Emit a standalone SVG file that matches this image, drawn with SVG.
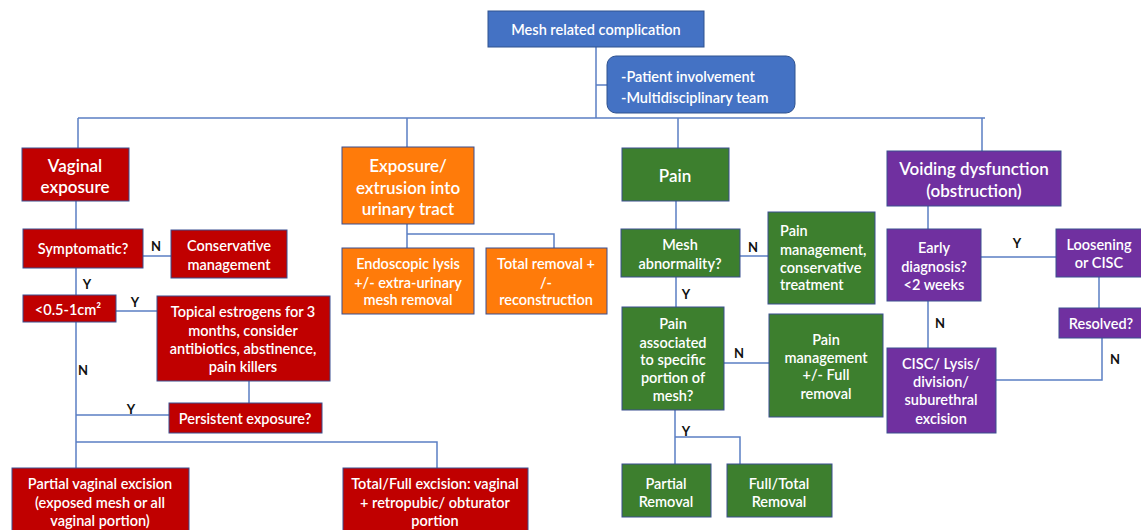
<svg xmlns="http://www.w3.org/2000/svg" width="1141" height="530" viewBox="0 0 1141 530">
<style>
.c{fill:none;stroke:#5B7FC4;stroke-width:1.5}
.bl{fill:#4472C4;stroke:#2F528F;stroke-width:1}
.rd{fill:#C00000;stroke:#3A4F8F;stroke-width:1}
.or{fill:#FF7B0A;stroke:#3A4F8F;stroke-width:1}
.gr{fill:#3D7F2E;stroke:#3A4F8F;stroke-width:1}
.pu{fill:#7030A0;stroke:#3A4F8F;stroke-width:1}
text{font-family:Lato,"Liberation Sans",Arial,sans-serif;font-weight:600;fill:#fff;font-size:14.5px;text-anchor:middle;dominant-baseline:central}
.h{font-size:17px}
.l{fill:#111;font-size:13px;font-weight:bold}
.s{text-anchor:start}
</style>
<rect width="1141" height="530" fill="#fff"/>
<g id="connectors">
<path class="c" d="M596 46V118M596 85H607M78 118H985M78 118V148M407 118V147M678 118V148M982 118V151"/>
<path class="c" d="M76 201V229M143 256H171M76 268V295M116 311H157M76 322V468M249 381V403M76 415H169M76 442H437V468"/>
<path class="c" d="M407 224V248M407 234H554V248"/>
<path class="c" d="M676 201V229M740 256H768M676 277V307M724 363H769M675 410V464M675 437H740V464"/>
<path class="c" d="M928 206V229M981 257H1056M1099 277V308M1102 338V380H996M928 301V348"/>
</g>
<g id="n-root"><rect class="bl" x="488" y="11" width="216" height="36"/><text x="596" y="29" font-size="15.5">Mesh related complication</text></g>
<g id="n-team"><rect class="bl" x="607" y="56" width="188" height="57" rx="9"/><text class="s" x="621" y="76">-Patient involvement</text><text class="s" x="621" y="97">-Multidisciplinary team</text></g>
<g id="n-vag"><rect class="rd" x="22" y="148" width="107" height="53"/><text class="h" x="75" y="165">Vaginal</text><text class="h" x="75" y="186">exposure</text></g>
<g id="n-symp"><rect class="rd" x="23" y="229" width="120" height="39"/><text x="83" y="248">Symptomatic?</text></g>
<g id="n-cons"><rect class="rd" x="171" y="230" width="116" height="48"/><text x="229" y="245">Conservative</text><text x="229" y="264">management</text></g>
<g id="n-size"><rect class="rd" x="23" y="295" width="93" height="27"/><text x="68" y="309">&lt;0.5-1cm²</text></g>
<g id="n-top"><rect class="rd" x="157" y="296" width="173" height="85"/><text x="243" y="311">Topical estrogens for 3</text><text x="243" y="330">months, consider</text><text x="243" y="348">antibiotics, abstinence,</text><text x="243" y="366">pain killers</text></g>
<g id="n-pers"><rect class="rd" x="169" y="403" width="153" height="30"/><text x="245" y="418">Persistent exposure?</text></g>
<g id="n-part"><rect class="rd" x="12" y="468" width="177" height="66"/><text x="100" y="483">Partial vaginal excision</text><text x="100" y="502">(exposed mesh or all</text><text x="100" y="520">vaginal portion)</text></g>
<g id="n-total"><rect class="rd" x="343" y="468" width="185" height="66"/><text x="435" y="483">Total/Full excision: vaginal</text><text x="435" y="502">+ retropubic/ obturator</text><text x="435" y="520">portion</text></g>
<g id="n-exp"><rect class="or" x="342" y="147" width="132" height="77"/><text class="h" x="408" y="165">Exposure/</text><text class="h" x="408" y="187">extrusion into</text><text class="h" x="408" y="208">urinary tract</text></g>
<g id="n-endo"><rect class="or" x="342" y="248" width="132" height="66"/><text x="408" y="263">Endoscopic lysis</text><text x="408" y="282">+/- extra-urinary</text><text x="408" y="299">mesh removal</text></g>
<g id="n-trem"><rect class="or" x="486" y="248" width="121" height="66"/><text x="546" y="263">Total removal +</text><text x="546" y="282">/-</text><text x="546" y="299">reconstruction</text></g>
<g id="n-pain"><rect class="gr" x="622" y="148" width="107" height="53"/><text class="h" x="675" y="175">Pain</text></g>
<g id="n-abn"><rect class="gr" x="621" y="229" width="119" height="48"/><text x="680" y="244">Mesh</text><text x="680" y="263">abnormality?</text></g>
<g id="n-pm1"><rect class="gr" x="768" y="212" width="107" height="92"/><text class="s" x="780" y="230">Pain</text><text class="s" x="780" y="249">management,</text><text class="s" x="780" y="267">conservative</text><text class="s" x="780" y="284">treatment</text></g>
<g id="n-assoc"><rect class="gr" x="622" y="307" width="102" height="103"/><text x="673" y="323">Pain</text><text x="673" y="342">associated</text><text x="673" y="359">to specific</text><text x="673" y="377">portion of</text><text x="673" y="395">mesh?</text></g>
<g id="n-pm2"><rect class="gr" x="769" y="314" width="114" height="103"/><text x="826" y="339">Pain</text><text x="826" y="357">management</text><text x="826" y="374">+/- Full</text><text x="826" y="393">removal</text></g>
<g id="n-prem"><rect class="gr" x="622" y="464" width="89" height="53"/><text x="666" y="483">Partial</text><text x="666" y="501">Removal</text></g>
<g id="n-frem"><rect class="gr" x="727" y="464" width="105" height="53"/><text x="779" y="483">Full/Total</text><text x="779" y="501">Removal</text></g>
<g id="n-void"><rect class="pu" x="887" y="151" width="174" height="55"/><text class="h" x="974" y="168">Voiding dysfunction</text><text class="h" x="974" y="190">(obstruction)</text></g>
<g id="n-early"><rect class="pu" x="887" y="229" width="94" height="72"/><text x="934" y="247">Early</text><text x="934" y="266">diagnosis?</text><text x="934" y="284">&lt;2 weeks</text></g>
<g id="n-loose"><rect class="pu" x="1056" y="229" width="86" height="48"/><text x="1099" y="244">Loosening</text><text x="1099" y="262">or CISC</text></g>
<g id="n-res"><rect class="pu" x="1059" y="308" width="83" height="30"/><text x="1101" y="323">Resolved?</text></g>
<g id="n-cisc"><rect class="pu" x="887" y="348" width="109" height="85"/><text x="941" y="363">CISC/ Lysis/</text><text x="941" y="381">division/</text><text x="941" y="399">suburethral</text><text x="941" y="418">excision</text></g>
<g id="labels">
<text class="l" x="156" y="246">N</text><text class="l" x="87" y="284">Y</text><text class="l" x="135" y="302">Y</text><text class="l" x="83" y="370">N</text><text class="l" x="131" y="409">Y</text>
<text class="l" x="753" y="247">N</text><text class="l" x="686" y="294">Y</text><text class="l" x="739" y="353">N</text><text class="l" x="686" y="431">Y</text>
<text class="l" x="1017" y="243">Y</text><text class="l" x="940" y="323">N</text><text class="l" x="1115" y="359">N</text>
</g>
</svg>
